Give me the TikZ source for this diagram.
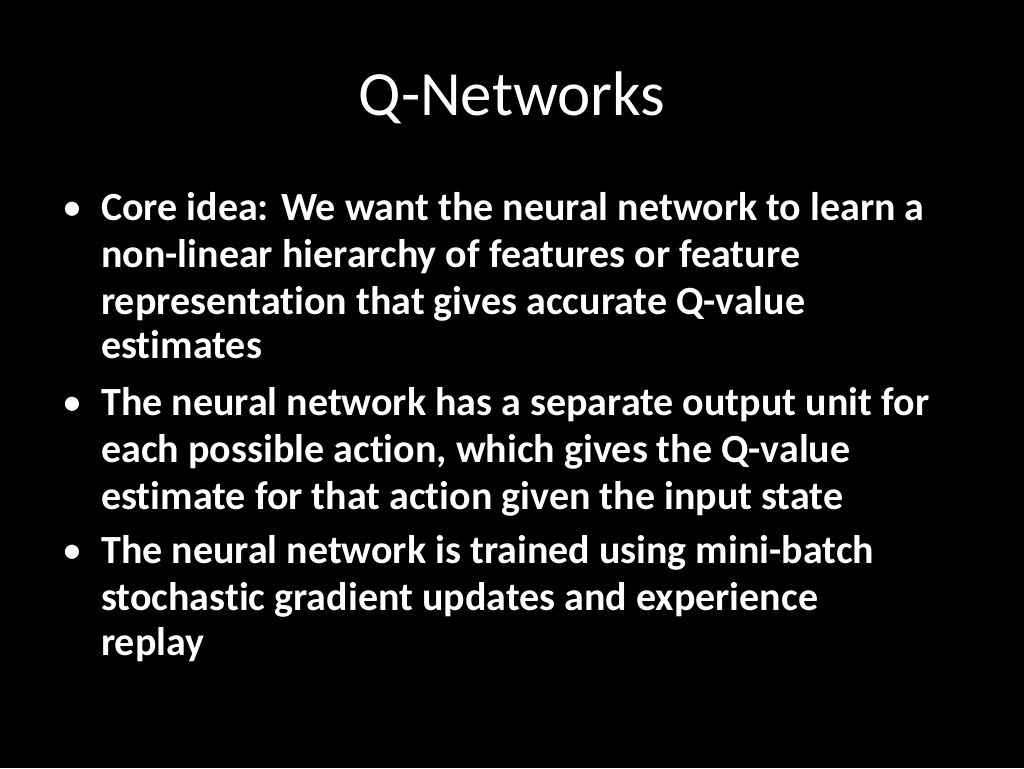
\documentclass[tikz,border=0pt]{standalone}
\usepackage{fontspec}
\setmainfont[Ligatures={NoCommon}]{Carlito}
\begin{document}
\begin{tikzpicture}[x=1pt,y=-1pt,
  txt/.style={anchor=base west,inner sep=0pt,text=white,font=\fontsize{40}{48}\selectfont\bfseries},
  bul/.style={anchor=base west,inner sep=0pt,text=white,font=\fontsize{40}{48}\selectfont}]
\fill[black] (0,0) rectangle (1024,768);
\useasboundingbox (0,0) rectangle (1024,768);
\node[anchor=base,inner sep=0pt,text=white,font=\fontsize{63}{74}\selectfont] (title) at (512,115) {Q-Networks};
\node[bul] (b1) at (62,220) {•};
\node[bul] (b2) at (62,415) {•};
\node[bul] (b3) at (62,563) {•};
\node[txt] (l1) at (101,220) {Core idea: We want the neural network to learn a};
\node[txt] (l2) at (101,267) {non-linear hierarchy of features or feature};
\node[txt] (l3) at (101,314) {representation that gives accurate Q-value};
\node[txt] (l4) at (101,358) {estimates};
\node[txt] (l5) at (101,415) {The neural network has a separate output unit for};
\node[txt] (l6) at (101,462) {each possible action, which gives the Q-value};
\node[txt] (l7) at (101,509) {estimate for that action given the input state};
\node[txt] (l8) at (101,563) {The neural network is trained using mini-batch};
\node[txt] (l9) at (101,610) {stochastic gradient updates and experience};
\node[txt] (l10) at (101,655) {replay};
\end{tikzpicture}
\end{document}
